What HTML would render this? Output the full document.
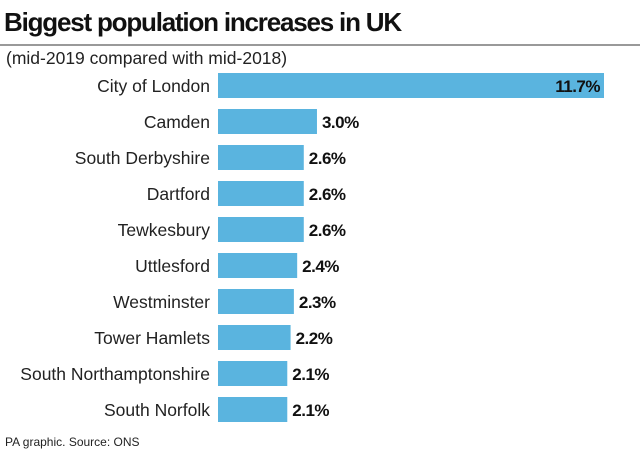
<!DOCTYPE html>
<html><head><meta charset="utf-8"><style>
body{margin:0;background:#fff;width:640px;height:459px;overflow:hidden;font-family:"Liberation Sans",sans-serif}
</style></head><body>
<svg width="640" height="459">
<text x="4" y="31" font-size="26" font-weight="bold" fill="#111" letter-spacing="-1.2">Biggest population increases in UK</text>
<line x1="0" y1="45" x2="640" y2="45" stroke="#333" stroke-width="1"/>
<text x="6" y="64" font-size="17.5" fill="#222">(mid-2019 compared with mid-2018)</text>
<g id="bars"></g>
<text x="5" y="446" font-size="12" fill="#222">PA graphic. Source: ONS</text>
</svg>
<script>
const categories=["City of London","Camden","South Derbyshire","Dartford","Tewkesbury","Uttlesford","Westminster","Tower Hamlets","South Northamptonshire","South Norfolk"];
const values=[11.7,3.0,2.6,2.6,2.6,2.4,2.3,2.2,2.1,2.1];
const labels=["11.7%","3.0%","2.6%","2.6%","2.6%","2.4%","2.3%","2.2%","2.1%","2.1%"];
const x0=218,x1=604,vmax=11.7;
const xs=v=>x0+(x1-x0)*v/vmax;
const ys=i=>73+i*36;
const g=document.getElementById('bars');
const NS="http://www.w3.org/2000/svg";
categories.forEach((c,i)=>{
  const y=ys(i);
  const r=document.createElementNS(NS,'rect');
  r.setAttribute('x',x0);r.setAttribute('y',y);r.setAttribute('width',xs(values[i])-x0);r.setAttribute('height',25);r.setAttribute('fill','#5ab4df');
  
  
  g.appendChild(r);
  const t=document.createElementNS(NS,'text');
  t.setAttribute('x',210);t.setAttribute('y',y+19);t.setAttribute('text-anchor','end');t.setAttribute('font-size','17.5');t.setAttribute('fill','#222');
  t.textContent=c;
  
  
  g.appendChild(t);
  const v=document.createElementNS(NS,'text');
  const inside=i===0;
  v.setAttribute('x',inside?xs(values[i])-4:xs(values[i])+5);v.setAttribute('y',y+19);
  v.setAttribute('text-anchor',inside?'end':'start');v.setAttribute('font-size','17');v.setAttribute('font-weight','bold');v.setAttribute('fill','#111');v.setAttribute('letter-spacing','-0.5');
  v.textContent=labels[i];
  
  
  g.appendChild(v);
});
</script>
</body></html>
